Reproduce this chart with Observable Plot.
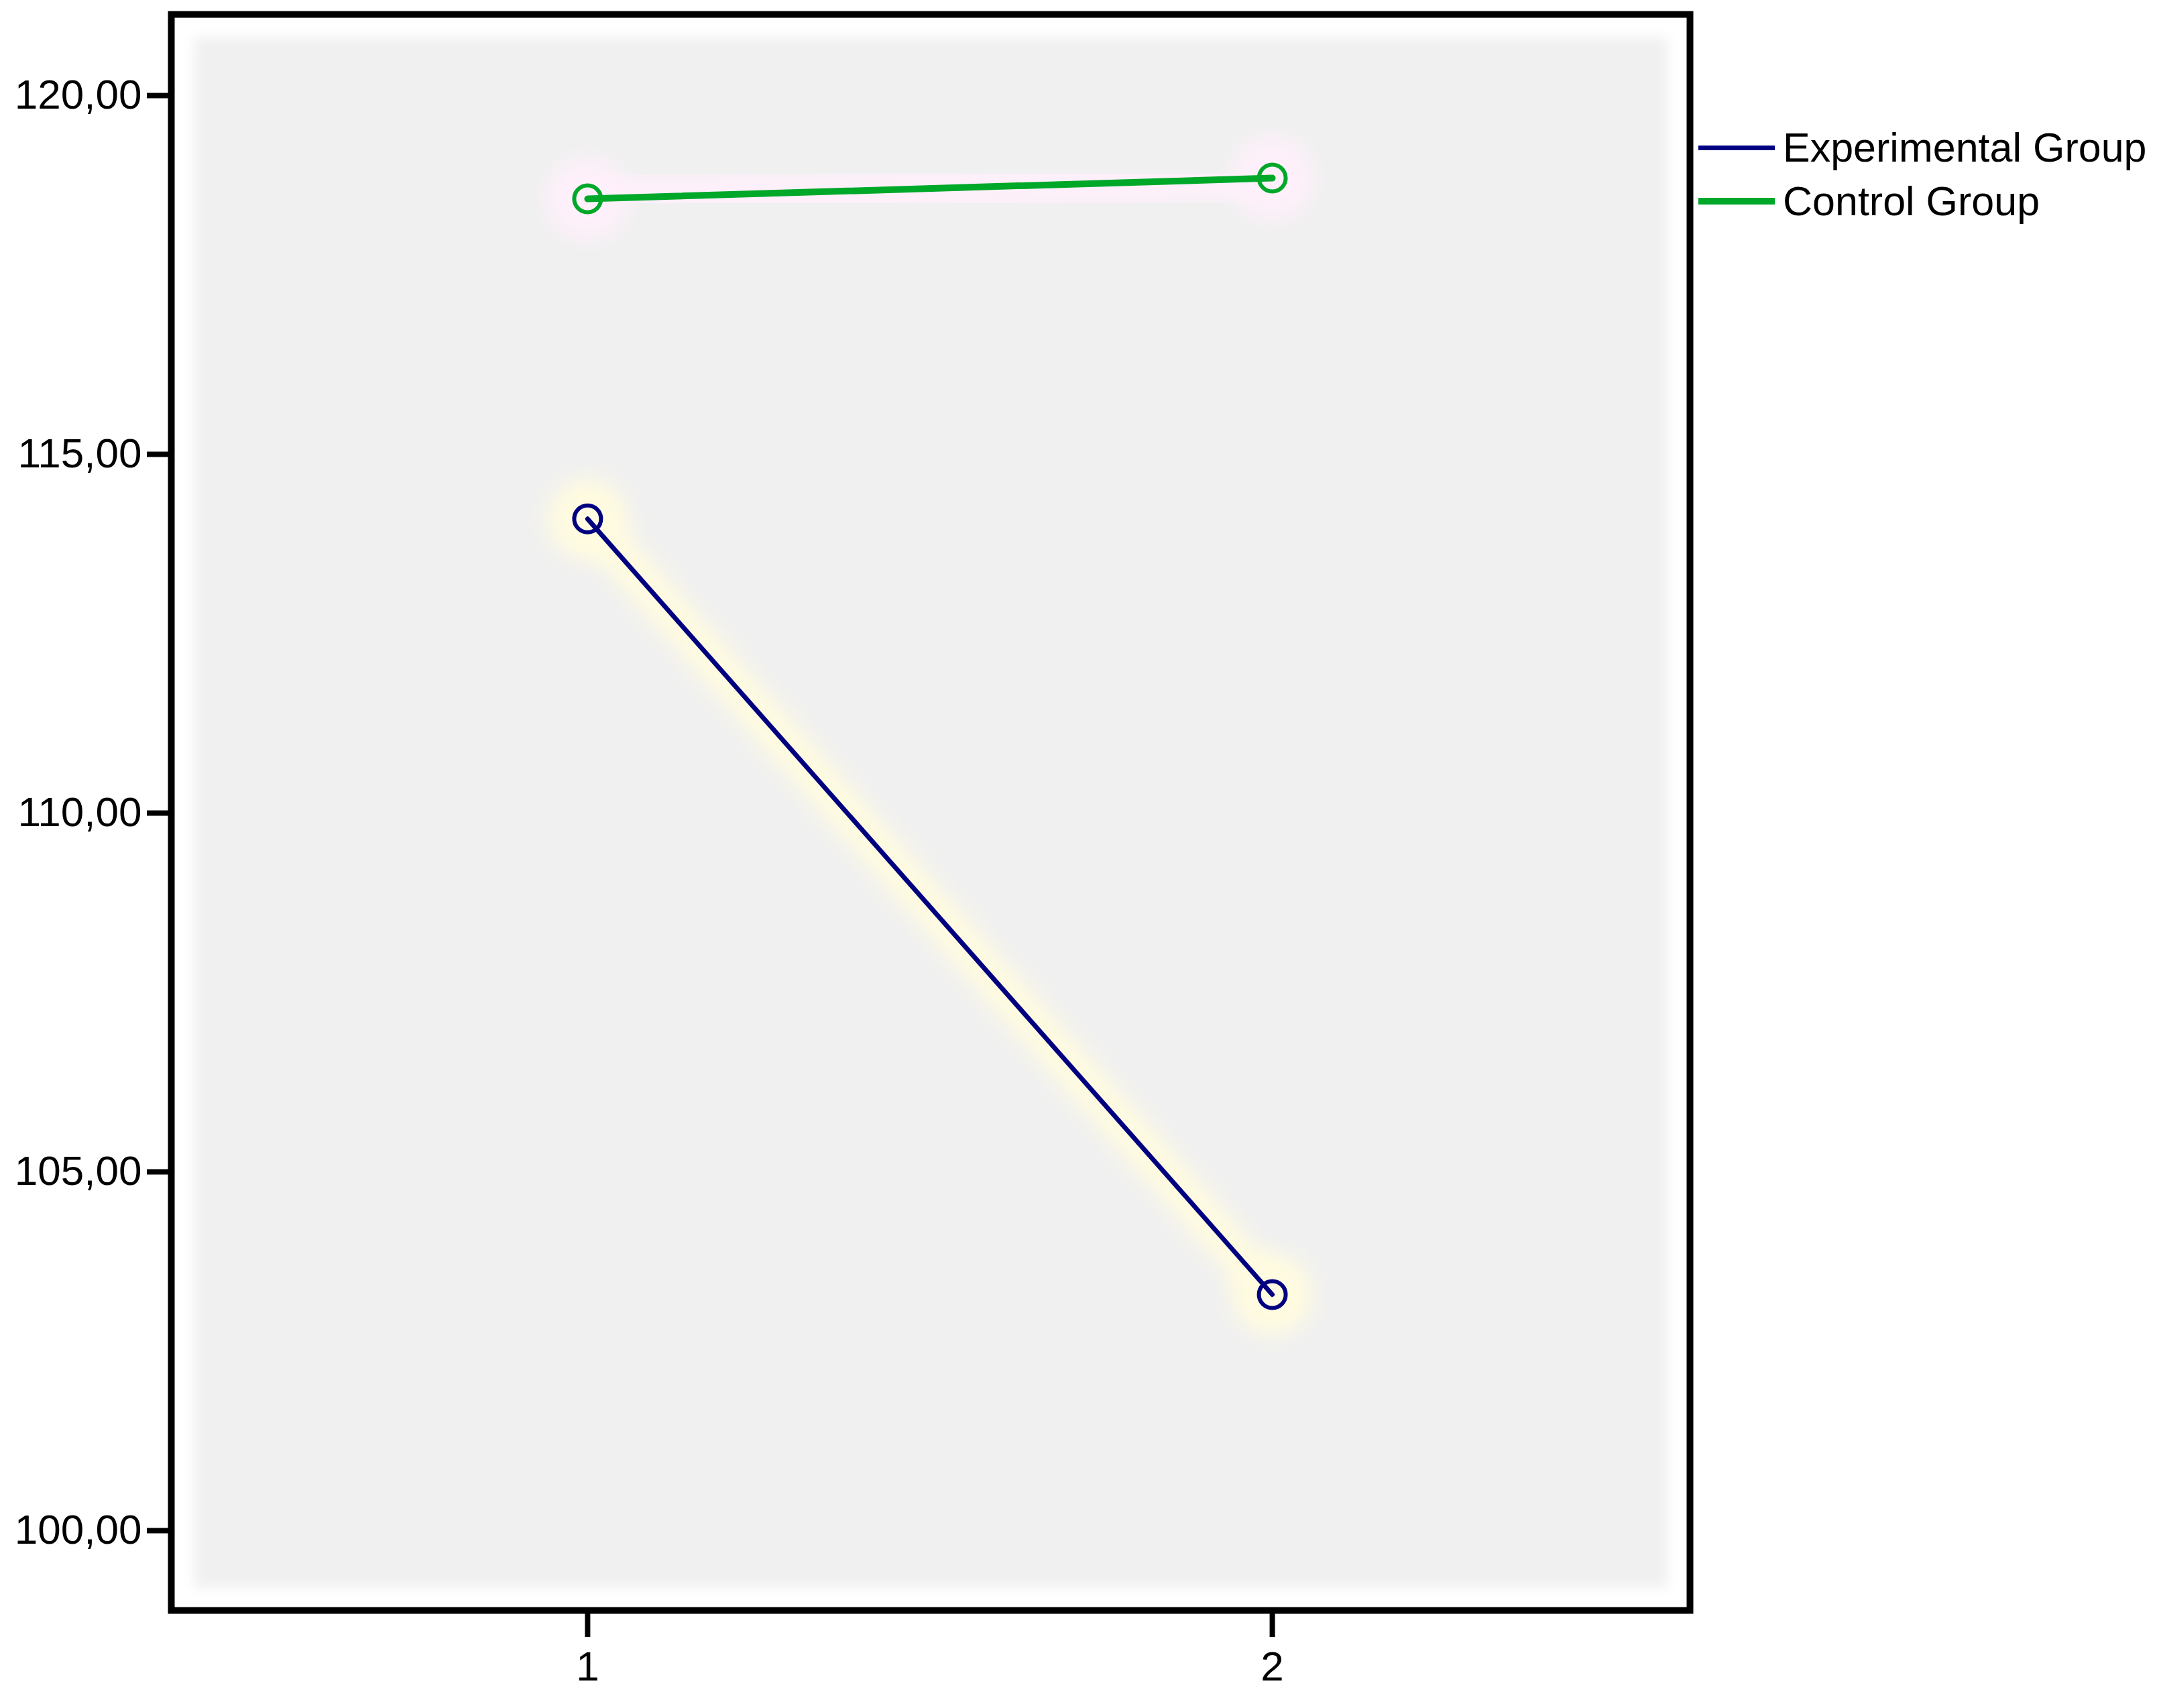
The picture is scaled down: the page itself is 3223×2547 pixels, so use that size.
<!DOCTYPE html>
<html>
<head>
<meta charset="utf-8">
<script src="https://cdn.jsdelivr.net/npm/d3@7"></script>
<script src="https://cdn.jsdelivr.net/npm/@observablehq/plot@0.6"></script>
<style>
  html, body { margin: 0; padding: 0; background: white; }
  #wrap { position: relative; width: 3223px; height: 2547px; }
  .legend { position: absolute; left: 2533px; font-family: "Liberation Sans", Arial, sans-serif; font-size: 61px; color: black; }
  .row { display: flex; align-items: center; height: 80px; }
  .sw { width: 114px; margin-right: 12px; }
</style>
</head>
<body>
<div id="wrap"></div>
<script>
const groups = ["Experimental Group", "Control Group"];
const times = [1, 2];
const experimental = [114.10, 103.29];
const control = [118.56, 118.85];
const colors = ["#000080", "#00a82a"];
const glowColors = ["#fffbe0", "#fff0fb"];
const lineWidths = [7, 10];
const yTicks = [100, 105, 110, 115, 120];
const xTicks = [1, 2];

const data = [
  ...times.map((t, i) => ({time: t, value: experimental[i], group: groups[0]})),
  ...times.map((t, i) => ({time: t, value: control[i], group: groups[1]}))
];

const fmt = d => d.toFixed(2).replace(".", ",");

const marks = [
  Plot.frame({fill: "#f0f0f0", inset: 34}),
  ...groups.map((g, i) => Plot.line(data.filter(d => d.group === g), {x: "time", y: "value", stroke: glowColors[i], strokeWidth: 60})),
  ...groups.map((g, i) => Plot.dot(data.filter(d => d.group === g), {x: "time", y: "value", r: 60, fill: glowColors[i]})),
  ...groups.map((g, i) => Plot.line(data.filter(d => d.group === g), {x: "time", y: "value", stroke: colors[i], strokeWidth: lineWidths[i]})),
  Plot.dot(data, {x: "time", y: "value", stroke: "group", r: 20, strokeWidth: 6, fill: "none"}),
  Plot.frame({stroke: "black", strokeWidth: 10}),
  Plot.axisY({ticks: yTicks, tickFormat: fmt, tickSize: 36, tickPadding: 8, strokeWidth: 8, fontSize: 62, label: null}),
  Plot.axisX({ticks: xTicks, tickFormat: d => String(d), tickSize: 40, tickPadding: 20, strokeWidth: 8, fontSize: 62, label: null})
];

const chart = Plot.plot({
  width: 3223,
  height: 2547,
  marginLeft: 255,
  marginRight: 703,
  marginTop: 21,
  marginBottom: 146,
  style: {fontFamily: '"Liberation Sans", Arial, sans-serif', fontSize: "62px", color: "black", background: "white"},
  x: {domain: [0.392, 2.610], label: null},
  y: {domain: [98.888, 121.131], label: null},
  color: {domain: groups, range: colors},
  marks
});

// soft edges and glows
const svg = d3.select(chart.tagName.toLowerCase() === "svg" ? chart : chart.querySelector("svg"));
const defs = svg.insert("defs", ":first-child");
defs.append("filter").attr("id", "softbg").attr("x", "-5%").attr("y", "-5%").attr("width", "110%").attr("height", "110%")
  .append("feGaussianBlur").attr("stdDeviation", 9);
defs.append("filter").attr("id", "glow").attr("x", "-20%").attr("y", "-20%").attr("width", "140%").attr("height", "140%")
  .append("feGaussianBlur").attr("stdDeviation", 16);
const frames = svg.selectAll('[aria-label="frame"]').nodes();
if (frames[0]) d3.select(frames[0]).attr("filter", "url(#softbg)");
const lines = svg.selectAll('g[aria-label="line"]').nodes();
const dots = svg.selectAll('g[aria-label="dot"]').nodes();
lines.slice(0, 2).forEach(n => d3.select(n).attr("filter", "url(#glow)"));
dots.slice(0, 2).forEach(n => d3.select(n).attr("filter", "url(#glow)"));
svg.selectAll('g[aria-label="x-axis tick"] path, g[aria-label="y-axis tick"] path').attr("stroke", "black");

const wrap = document.getElementById("wrap");
wrap.appendChild(chart);

const legend = document.createElement("div");
legend.className = "legend";
legend.style.top = "180px";
groups.forEach((g, i) => {
  const row = document.createElement("div");
  row.className = "row";
  const sw = document.createElement("div");
  sw.className = "sw";
  sw.style.height = lineWidths[i] + "px";
  sw.style.background = colors[i];
  const label = document.createElement("span");
  label.textContent = g;
  row.appendChild(sw);
  row.appendChild(label);
  legend.appendChild(row);
});
wrap.appendChild(legend);
</script>
</body>
</html>
